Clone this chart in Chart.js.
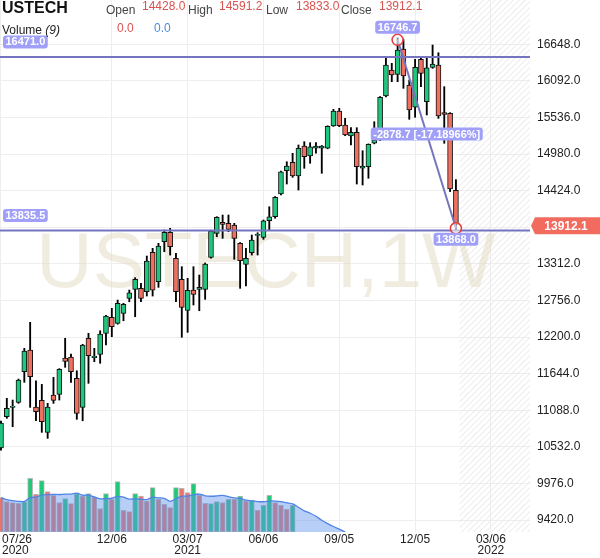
<!DOCTYPE html>
<html lang="en">
<head>
<meta charset="UTF-8">
<title>USTECH 1W</title>
<script src="https://cdn.jsdelivr.net/npm/chart.js@4.4.0/dist/chart.umd.min.js"></script>
<style>
  html, body { margin: 0; padding: 0; background: #fff; }
  #wrap { position: relative; width: 600px; height: 558px; overflow: hidden;
          font-family: "Liberation Sans", Arial, sans-serif; }
  #chart { position: absolute; left: 0; top: 0; }
  .hd { position: absolute; white-space: nowrap; font-size: 12px; line-height: 14px; color: #444; }
  .sym { font-size: 16px; line-height: 18px; font-weight: bold; color: #111; }
  .val { color: #d9534f; }
  .blue { color: #4a8ce0; }
</style>
</head>
<body>
<div id="wrap">
  <canvas id="chart" width="600" height="558"></canvas>
  <div class="hd sym" style="left:2px;top:-1px">USTECH</div>
  <div class="hd" style="left:106px;top:3px">Open</div>
  <div class="hd val" id="vOpen" style="left:142px;top:-1px"></div>
  <div class="hd" style="left:188px;top:3px">High</div>
  <div class="hd val" id="vHigh" style="left:219px;top:-1px"></div>
  <div class="hd" style="left:266px;top:3px">Low</div>
  <div class="hd val" id="vLow" style="left:296px;top:-1px"></div>
  <div class="hd" style="left:341px;top:3px">Close</div>
  <div class="hd val" id="vClose" style="left:379px;top:-1px"></div>
  <div class="hd" style="left:2px;top:23px;color:#222">Volume <i>(9)</i></div>
  <div class="hd val" style="left:117px;top:21px">0.0</div>
  <div class="hd blue" style="left:154px;top:21px">0.0</div>
</div>
<script>
// weekly candles, first week 07/26/2020
const opens  = [10514,10989,11132,11208,11673,12003,11137,11238,10752,11319,
                11330,11881,11896,11573,11132,12181,11886,11937,12257,12500,
                12408,12560,12788,12925,12940,12889,13487,13041,13648,13791,
                13396,13077,12606,12914,12925,12925,13411,13776,13943,13928,
                13902,13624,13305,13481,13746,13715,13967,14028,14373,14727,
                14855,14647,15103,14951,15068,15068,15068,15406,15634,15422,
                15254,15311,14764,14788,15144,15194,15862,16257,16192,16576,
                16029,15691,16420,15776,16298,16333,15609,15599,14428.0];
const highs  = [10924,11269,11243,11562,12029,12424,11536,11481,11193,11588,
                11720,12181,11942,11688,12090,12257,12029,12296,12530,12636,
                12762,12712,12914,13102,13016,13431,13548,13624,13826,13852,
                13472,13269,13092,13269,13142,13325,13825,14029,14054,14054,
                13928,13635,13548,13750,13785,13978,14180,14335,14720,14864,
                14992,15118,15168,15153,15153,15110,15410,15660,15675,15523,
                15381,15381,15031,15135,15472,15855,16435,16359,16746.7,16720,
                16105,16420,16435,16435,16637,16520,16004,15609,14591.2];
const lows   = [10483,10965,10837,11193,11512,11132,10928,10752,10661,11193,
                11243,11740,11512,10950,10928,11497,11825,11801,12079,12205,
                12395,12448,12737,12509,12737,12823,12823,12955,13496,13446,
                12737,12196,12272,12687,12600,12773,13400,13724,13700,13800,
                13381,12940,12975,13446,13446,13685,13826,14004,14360,14525,
                14627,14434,14764,14840,14992,14688,15060,15400,15396,15259,
                15118,14525,14510,14612,15135,15185,15850,16080,16080,15979,
                15508,15539,16004,15574,16283,15523,15144,14410,13833.0];
const closes = [10894,11117,11152,11547,11988,11597,11065,10913,11137,11238,
                11709,11831,11673,11041,12079,11916,11912,12246,12519,12357,
                12712,12697,12873,13077,12788,13355,12914,13583,13791,13572,
                12889,12652,12910,12849,12955,13310,13811,14019,13913,13837,
                13700,13360,13396,13674,13761,13967,14028,14323,14712,14799,
                14647,15068,14940,15092,15103,15103,15402,15634,15411,15270,
                15311,14788,14799,15128,15194,15843,16333,16181,16561,16166,
                15650,16298,16207,16292,16349,15558,15584,14450,13912.1];

// volume (relative units) and its bar colour, 1 = up, 0 = down
const volumes  = [103,91,88,86,91,161,113,154,121,110,
                  88,100,85,115,108,115,105,70,115,98,
                  151,65,61,115,108,93,133,98,83,73,
                  133,131,118,145,111,86,85,91,88,98,
                  98,108,93,96,65,80,110,88,80,68,80];
const volumeUp = [0,0,0,0,1,1,0,1,0,0,
                  0,1,0,1,0,1,0,0,1,0,
                  1,0,0,1,0,0,1,0,0,0,
                  1,0,0,1,0,0,1,1,0,1,
                  0,1,0,1,0,1,1,0,0,0,1];
const maPeriod = 9;

const priceTicks = [9420.0, 9976.0, 10532.0, 11088.0, 11644.0, 12200.0, 12756.0,
                    13312.0, 13868.0, 14424.0, 14980.0, 15536.0, 16092.0, 16648.0];
const dateTickIdx    = [0, 19, 32, 45, 58, 71, 84];
const dateTickLabels = ['07/26', '12/06', '03/07', '06/06', '09/05', '12/05', '03/06'];
const dateTickYears  = ['2020', '', '2021', '', '', '', '2022'];

const levelLines   = [16471.0, 13835.5];
const measureIdx   = [68, 78];
const measurePrice = [16746.7, 13868.0];

const UP = '#1fc77e', DOWN = '#f0705f';
const FONT = '"Liberation Sans", Arial, sans-serif';

const idx = opens.map((_, i) => i);
const last = idx.length - 1;
document.getElementById('vOpen').textContent = opens[last].toFixed(1);
document.getElementById('vHigh').textContent = highs[last].toFixed(1);
document.getElementById('vLow').textContent = lows[last].toFixed(1);
document.getElementById('vClose').textContent = closes[last].toFixed(1);

const isUp = idx.map(i => closes[i] >= opens[i]);
const wickData = idx.map(i => ({ x: i, y: [lows[i], highs[i]] }));
const bodyData = idx.map(i => ({ x: i, y: [Math.min(opens[i], closes[i]), Math.max(opens[i], closes[i])] }));
const volData = volumes.map((v, i) => ({ x: i, y: v }));

// volume moving average, later weeks carry no volume
const volAll = idx.map(i => i < volumes.length ? volumes[i] : 0);
const maData = [];
for (let i = 0; i < volumes.length + maPeriod; i++) {
  const from = Math.max(0, i - maPeriod + 1);
  let s = 0;
  for (let j = from; j <= i; j++) s += volAll[j];
  maData.push({ x: i, y: s / (i - from + 1) });
}

function tag(ctx, text, cx, cy, bg, size) {
  ctx.font = 'bold ' + (size || 11) + 'px ' + FONT;
  const w = ctx.measureText(text).width + 5, h = 13;
  ctx.fillStyle = bg;
  ctx.beginPath();
  ctx.roundRect(cx - w / 2, cy - h / 2, w, h, 3);
  ctx.fill();
  ctx.fillStyle = '#fff';
  ctx.textAlign = 'center';
  ctx.textBaseline = 'middle';
  ctx.fillText(text, cx, cy + 0.5);
}

const extras = {
  id: 'extras',
  beforeDatasetsDraw(chart) {
    const { ctx, chartArea: a, scales: { x } } = chart;
    // hatched area for the weeks to come
    const hx = x.getPixelForValue(last + 0.6);
    const h = a.bottom - a.top;
    ctx.save();
    ctx.beginPath();
    ctx.rect(hx, a.top, a.right - hx, h);
    ctx.clip();
    ctx.strokeStyle = '#e6e6e6';
    ctx.lineWidth = 1;
    for (let k = hx - h; k < a.right; k += 6) {
      ctx.beginPath();
      ctx.moveTo(k, a.bottom);
      ctx.lineTo(k + h, a.top);
      ctx.stroke();
    }
    ctx.restore();
    // watermark
    ctx.save();
    ctx.font = '78px ' + FONT;
    ctx.fillStyle = 'rgba(222,212,186,0.45)';
    ctx.textAlign = 'center';
    ctx.textBaseline = 'alphabetic';
    ctx.fillText('USTECH,1W', 266, 287);
    ctx.restore();
  },
  afterDatasetsDraw(chart) {
    const { ctx, chartArea: a, scales: { x, y } } = chart;
    ctx.save();
    // horizontal levels
    levelLines.forEach(v => {
      const py = y.getPixelForValue(v) + 1;
      ctx.strokeStyle = '#7474bf';
      ctx.lineWidth = 2;
      ctx.beginPath();
      ctx.moveTo(a.left, py);
      ctx.lineTo(a.right, py);
      ctx.stroke();
      const t = v.toFixed(1);
      ctx.font = 'bold 11px ' + FONT;
      const w = ctx.measureText(t).width + 5;
      tag(ctx, t, 3 + w / 2, py - 15, '#a0a0f8');
    });
    // price range measure
    const x0 = x.getPixelForValue(measureIdx[0]), y0 = y.getPixelForValue(measurePrice[0]) + 2;
    const x1 = x.getPixelForValue(measureIdx[1]), y1 = y.getPixelForValue(measurePrice[1]) + 1;
    ctx.strokeStyle = '#7575bb';
    ctx.lineWidth = 2;
    ctx.beginPath();
    ctx.moveTo(x0, y0);
    ctx.lineTo(x1, y1);
    ctx.stroke();
    [[x0, y0], [x1, y1]].forEach(([cx, cy]) => {
      ctx.beginPath();
      ctx.arc(cx, cy, 5.5, 0, Math.PI * 2);
      ctx.fillStyle = 'rgba(255,255,255,0.55)';
      ctx.fill();
      ctx.strokeStyle = '#e63c3c';
      ctx.lineWidth = 1.5;
      ctx.stroke();
    });
    const diff = measurePrice[1] - measurePrice[0];
    const pct = diff / measurePrice[0] * 100;
    tag(ctx, measurePrice[0].toFixed(1), x0, y0 - 12.5, '#a0a0f8');
    tag(ctx, measurePrice[1].toFixed(1), x1, y1 + 11, '#a0a0f8');
    tag(ctx, diff.toFixed(1) + ' [' + pct.toFixed(5) + '%]', (x0 + x1) / 2, (y0 + y1) / 2, '#a0a0f8');
    ctx.restore();
  },
  afterDraw(chart) {
    const { ctx, chartArea: a, scales: { x, y } } = chart;
    ctx.save();
    // date labels
    ctx.fillStyle = '#222';
    ctx.font = '12px ' + FONT;
    ctx.textBaseline = 'alphabetic';
    dateTickIdx.forEach((d, k) => {
      const px = x.getPixelForValue(d);
      ctx.textAlign = k === 0 ? 'left' : 'center';
      const tx = k === 0 ? 2 : px;
      ctx.fillText(dateTickLabels[k], tx, 543);
      if (dateTickYears[k]) ctx.fillText(dateTickYears[k], tx, 554);
    });
    // last price marker
    const py = y.getPixelForValue(closes[last]) + 1.5;
    ctx.fillStyle = '#f26b5f';
    ctx.beginPath();
    ctx.moveTo(a.right + 1, py);
    ctx.lineTo(a.right + 5, py - 8.5);
    ctx.lineTo(600, py - 8.5);
    ctx.lineTo(600, py + 8.5);
    ctx.lineTo(a.right + 5, py + 8.5);
    ctx.closePath();
    ctx.fill();
    ctx.fillStyle = '#fff';
    ctx.font = 'bold 12px ' + FONT;
    ctx.textAlign = 'center';
    ctx.textBaseline = 'middle';
    ctx.fillText(closes[last].toFixed(1), 566, py + 0.5);
    ctx.restore();
  }
};

Chart.defaults.font.family = FONT;

new Chart(document.getElementById('chart'), {
  type: 'bar',
  data: {
    datasets: [
      {
        label: 'body', data: bodyData, yAxisID: 'y', order: 0, grouped: false,
        barThickness: 5, backgroundColor: idx.map(i => isUp[i] ? UP : DOWN),
        borderColor: '#111', borderWidth: 1, borderSkipped: false
      },
      {
        label: 'wick', data: wickData, yAxisID: 'y', order: 1, grouped: false,
        barThickness: 1.2, backgroundColor: '#000', borderWidth: 0
      },
      {
        type: 'line', label: 'Volume MA', data: maData, yAxisID: 'yv', order: 2,
        borderColor: '#4f84e6', borderWidth: 1.3, backgroundColor: 'rgba(96,146,236,0.45)',
        fill: 'origin', pointRadius: 0, tension: 0.3
      },
      {
        label: 'Volume', data: volData, yAxisID: 'yv', order: 3, grouped: false,
        barThickness: 5, backgroundColor: volumes.map((_, i) => volumeUp[i] ? '#22c77a' : '#e8776b'),
        borderColor: '#b8b8b8', borderWidth: 1, borderSkipped: false
      }
    ]
  },
  options: {
    responsive: false,
    animation: false,
    events: [],
    layout: { padding: 0 },
    plugins: { legend: { display: false }, tooltip: { enabled: false } },
    scales: {
      x: {
        type: 'linear', min: -0.17, max: 90.7, offset: false,
        afterBuildTicks: s => { s.ticks = dateTickIdx.map(v => ({ value: v })); },
        afterFit: s => { s.height = 26; s.paddingLeft = 0; s.paddingRight = 0; },
        ticks: { display: false },
        grid: { color: '#eeeeee', drawTicks: false, offset: false },
        border: { display: false }
      },
      y: {
        position: 'right', min: 9238, max: 17321,
        afterBuildTicks: s => { s.ticks = priceTicks.map(v => ({ value: v })); },
        afterFit: s => { s.width = 70; s.paddingTop = 0; s.paddingBottom = 0; },
        ticks: { padding: 7, color: '#222', font: { size: 12 }, callback: v => v.toFixed(1) },
        grid: { color: '#eeeeee', drawTicks: false },
        border: { display: false }
      },
      yv: { display: false, min: 0, max: 1596 }
    }
  },
  plugins: [extras]
});
</script>
</body>
</html>
